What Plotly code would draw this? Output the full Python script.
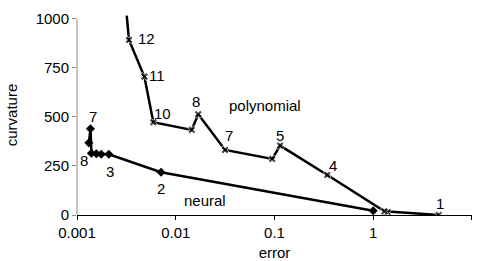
import numpy as np
import plotly.graph_objects as go

# polynomial series (error, curvature), ordered by degree
poly_err = [4.6, 1.4, 1.3, 0.343, 0.114, 0.095, 0.0316, 0.0169, 0.0145, 0.00593, 0.00481, 0.00336, 0.00319]
poly_curv = [0, 15, 19, 204, 354, 286, 332, 514, 434, 473, 706, 893, 1017]

# neural series
neural_err = [1.0, 0.0071, 0.0021, 0.00176, 0.00157, 0.0014, 0.00137, 0.00132]
neural_curv = [22, 218, 310, 310, 312, 315, 440, 368]

# point labels (text, error, curvature)
poly_lab_text = ["12", "11", "10", "8", "7", "5", "4", "1", "polynomial"]
poly_lab_err = [0.00508, 0.0065, 0.00726, 0.01604, 0.0349, 0.115, 0.388, 4.7, 0.0801]
poly_lab_curv = [901, 714, 520, 578, 403, 408, 255, 61, 556]

neural_lab_text = ["7", "8", "3", "2", "neural"]
neural_lab_err = [0.00145, 0.00118, 0.00216, 0.00704, 0.01978]
neural_lab_curv = [500, 276, 221, 136, 73]

x_ticks = [0.001, 0.01, 0.1, 1, 10]
x_tick_text = ["0.001", "0.01", "0.1", "1", "10"]
y_ticks = [0, 250, 500, 750, 1000]

FONT = "Liberation Sans, Arial, sans-serif"
FS = 15

fig = go.Figure()
poly_sizes = [7] * (len(poly_err) - 1) + [0]
fig.add_trace(go.Scatter(
    x=poly_err, y=poly_curv, mode="lines+markers",
    line=dict(color="black", width=2.5),
    marker=dict(symbol="x", size=poly_sizes, color="black"),
    showlegend=False, hoverinfo="skip"))
fig.add_trace(go.Scatter(
    x=neural_err, y=neural_curv, mode="lines+markers",
    line=dict(color="black", width=2.5),
    marker=dict(symbol="diamond", size=7, color="black"),
    showlegend=False, hoverinfo="skip"))

for t, xe, yc in list(zip(poly_lab_text, poly_lab_err, poly_lab_curv)) + \
        list(zip(neural_lab_text, neural_lab_err, neural_lab_curv)):
    fig.add_annotation(x=np.log10(xe), y=yc, xref="x", yref="y", text=t,
                       showarrow=False, font=dict(family=FONT, size=FS, color="black"))

# y axis line only up to 1000
fig.add_shape(type="line", xref="paper", yref="y", x0=0, x1=0, y0=0, y1=1000,
              line=dict(color="#888888", width=1))

fig.update_xaxes(type="log", range=[-3, 1.0005], tickvals=x_ticks, ticktext=x_tick_text,
                 showgrid=False, zeroline=False, showline=True, linecolor="black",
                 linewidth=1, ticks="outside", ticklen=4, tickcolor="black",
                 automargin=False,
                 tickfont=dict(family=FONT, size=FS, color="black"),
                 title=dict(text="error", font=dict(family=FONT, size=FS, color="black"),
                            standoff=14))
fig.update_yaxes(range=[0, 1020], tickvals=y_ticks, showgrid=False, zeroline=False,
                 showline=False, ticks="outside", ticklen=4, tickcolor="#888888",
                 automargin=False,
                 tickfont=dict(family=FONT, size=FS, color="black"),
                 title=dict(text="curvature", font=dict(family=FONT, size=FS, color="black"),
                            standoff=14))

fig.update_layout(width=478, height=261, margin=dict(l=77, r=6, t=15, b=46),
                  paper_bgcolor="white", plot_bgcolor="white")

fig.write_html("out.html", config={"displayModeBar": False},
               post_script="document.body.style.margin='0';document.body.style.overflow='hidden';")
